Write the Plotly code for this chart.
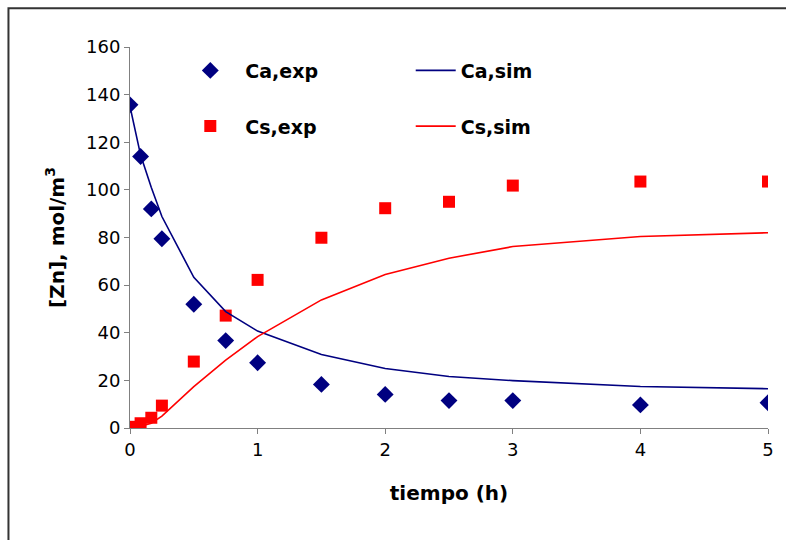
import plotly.graph_objects as go

t = [0, 0.083, 0.167, 0.25, 0.5, 0.75, 1, 1.5, 2, 2.5, 3, 4, 5]
ca_exp = [135.7, 114, 92, 79.5, 52, 36.7, 27.4, 18.3, 14.1, 11.5, 11.5, 9.7, 10.6]
cs_exp = [0.5, 2, 4.3, 9.4, 27.9, 47.2, 62.2, 79.9, 92.3, 95, 101.8, 103.5, 103.5]
ca_sim = [135, 114.6, 101, 88.8, 63.3, 48.9, 40.7, 30.9, 25, 21.6, 19.9, 17.4, 16.5]
cs_sim = [0, 0.7, 2, 5, 17.4, 28.5, 38.4, 53.8, 64.5, 71.3, 76.2, 80.4, 82]

NAVY = "#000080"
RED = "#FF0000"
FONT = "DejaVu Sans"

fig = go.Figure()
fig.add_trace(go.Scatter(x=t, y=ca_exp, mode="markers", name="<b>Ca,exp</b>",
                         marker=dict(symbol="diamond", size=13, color=NAVY),
                         legend="legend", legendgroup="a"))
fig.add_trace(go.Scatter(x=t, y=cs_exp, mode="markers", name="<b>Cs,exp</b>",
                         marker=dict(symbol="square", size=12, color=RED),
                         legend="legend", legendgroup="b"))
fig.add_trace(go.Scatter(x=t, y=ca_sim, mode="lines", name="<b>Ca,sim</b>",
                         line=dict(color=NAVY, width=1.6),
                         legend="legend2", legendgroup="c"))
fig.add_trace(go.Scatter(x=t, y=cs_sim, mode="lines", name="<b>Cs,sim</b>",
                         line=dict(color=RED, width=1.6),
                         legend="legend2", legendgroup="d"))

axis_common = dict(showline=True, linecolor="#808080", linewidth=1, ticks="outside",
                   tickcolor="#808080", ticklen=5, showgrid=False, zeroline=False,
                   tickfont=dict(family=FONT, size=18, color="#000"))

fig.update_layout(
    width=786, height=540,
    margin=dict(l=130, r=18, t=47, b=112),
    paper_bgcolor="white", plot_bgcolor="white",
    font=dict(family=FONT, color="#000"),
    xaxis=dict(range=[0, 5], dtick=1, **axis_common,
               title=dict(text="<b>tiempo (h)</b>", font=dict(family=FONT, size=20), standoff=27)),
    yaxis=dict(range=[0, 160], dtick=20, **axis_common,
               title=dict(text="<b>[Zn], mol/m<sup>3</sup></b>", font=dict(family=FONT, size=20), standoff=16)),
    legend=dict(x=0.071, y=0.988, xanchor="left", yanchor="top", bgcolor="rgba(0,0,0,0)",
                font=dict(family=FONT, size=19), tracegroupgap=28, itemwidth=60),
    legend2=dict(x=0.44, y=0.988, xanchor="left", yanchor="top", bgcolor="rgba(0,0,0,0)",
                 font=dict(family=FONT, size=19), tracegroupgap=28, itemwidth=40),
    showlegend=True,
)

fig.add_shape(type="path", xref="paper", yref="paper",
              path="M -0.1905 -0.5 L -0.1905 1.1014 L 1.5 1.1014",
              line=dict(color="#333333", width=2))

fig.write_html("out.html")
